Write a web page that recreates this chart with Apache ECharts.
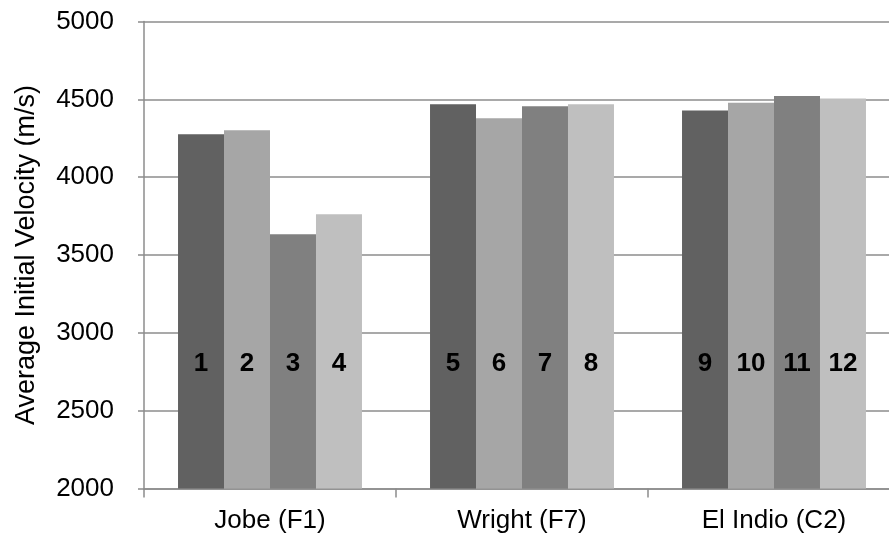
<!DOCTYPE html>
<html><head><meta charset="utf-8">
<script src="https://cdn.jsdelivr.net/npm/echarts@6/dist/echarts.min.js"></script>
<style>html,body{margin:0;padding:0;background:#fff}#c{width:889px;height:548px}</style>
</head><body><div id="c"></div>
<script>
const categories = ['Jobe (F1)', 'Wright (F7)', 'El Indio (C2)'];
const series1 = [4276, 4468, 4429];
const series2 = [4302, 4378, 4478];
const series3 = [3634, 4455, 4521];
const series4 = [3762, 4468, 4506];
const barNumbers = [[1, 5, 9], [2, 6, 10], [3, 7, 11], [4, 8, 12]];
const yTicks = { min: 2000, max: 5000, interval: 500 };
const yTitle = 'Average Initial Velocity (m/s)';

const colors = ['#616161', '#a6a6a6', '#808080', '#bfbfbf'];
const allSeries = [series1, series2, series3, series4];
const font = 'Liberation Sans';

const chart = echarts.init(document.getElementById('c'), null, { renderer: 'canvas' });
chart.setOption({
  animation: false,
  textStyle: { fontFamily: font },
  grid: { left: 144, width: 756, top: 21.5, bottom: 59.5, containLabel: false, outerBoundsMode: 'none' },
  xAxis: {
    type: 'category', data: categories, boundaryGap: true,
    axisLine: { lineStyle: { color: '#8c8c8c', width: 1.5 } },
    axisTick: { show: true, interval: 0, length: 9, lineStyle: { color: '#8c8c8c', width: 1.5 } },
    axisLabel: { color: '#000', fontSize: 26, margin: 19, fontFamily: font }
  },
  yAxis: {
    type: 'value', min: yTicks.min, max: yTicks.max, interval: yTicks.interval,
    name: yTitle, nameLocation: 'middle', nameRotate: 90, nameGap: 104,
    nameTextStyle: { color: '#000', fontSize: 27, fontFamily: font },
    axisLine: { show: true, lineStyle: { color: '#8c8c8c', width: 1.5 } },
    axisTick: { show: true, inside: false, length: 6, lineStyle: { color: '#8c8c8c', width: 1.5 } },
    axisLabel: { color: '#000', fontSize: 26, margin: 30, fontFamily: font, formatter: v => String(v) },
    splitLine: { show: true, lineStyle: { color: '#8c8c8c', width: 1.5 } }
  },
  series: allSeries.map((vals, i) => ({
    type: 'bar', name: String(i + 1),
    data: vals.map((v, j) => ({ value: v, label: { formatter: String(barNumbers[i][j]) } })),
    barGap: '0%', barCategoryGap: '27%',
    itemStyle: { color: colors[i] },
    label: { show: true, position: 'insideBottom', distance: 112, color: '#000',
      fontSize: 26, fontWeight: 'bold', fontFamily: font }
  }))
});
</script></body></html>
